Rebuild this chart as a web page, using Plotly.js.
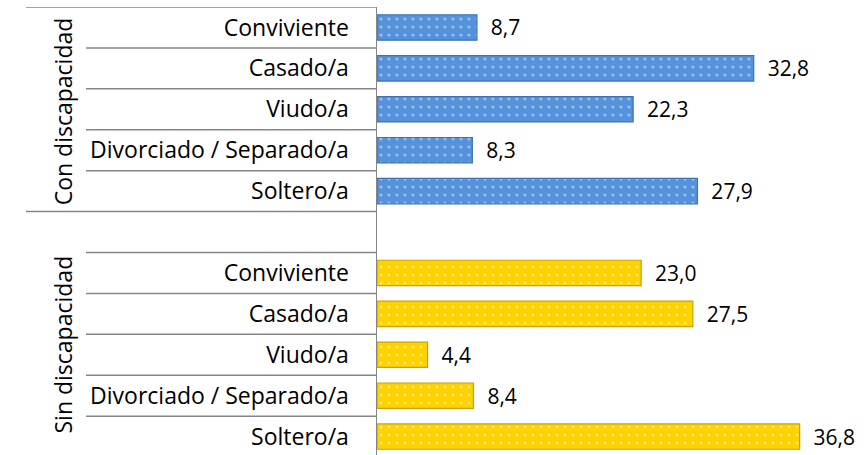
<!DOCTYPE html>
<html><head><meta charset="utf-8">
<script src="https://cdn.plot.ly/plotly-3.0.1.min.js"></script>
<style>body{margin:0;background:#fff}#chart{width:864px;height:455px}</style>
</head><body><div id="chart"></div>
<script>
const groups = ["Con discapacidad", "Sin discapacidad"];
const categories = ["Conviviente", "Casado/a", "Viudo/a", "Divorciado / Separado/a", "Soltero/a"];
const conValues = [8.7, 32.8, 22.3, 8.3, 27.9];
const sinValues = [23.0, 27.5, 4.4, 8.4, 36.8];

const conIds = categories.map((c, i) => "con_" + i);
const sinIds = categories.map((c, i) => "sin_" + i);
const gapId = "gap";
const order = conIds.concat([gapId], sinIds);
const tickText = categories.concat([""], categories);

const font = "'Open Sans', sans-serif";
const lineColor = "#868686";

function barTrace(ids, vals, bg, border) {
  return {
    type: "bar", orientation: "h", y: ids, x: vals,
    marker: {
      color: bg,
      line: {color: border, width: 1.2},
      pattern: {shape: ".", fgcolor: "rgba(255,255,255,0.85)", bgcolor: bg, size: 8, solidity: 0.12, fillmode: "overlay"}
    },
    texttemplate: "\u00a0\u00a0%{x:.1f}", textposition: "outside", cliponaxis: false, constraintext: "none",
    textfont: {family: font, size: 21, color: "#000"},
    hoverinfo: "none", showlegend: false
  };
}

const shapes = [];
function hline(yv, x0px) {
  shapes.push({type: "line", xref: "paper", yref: "y", x0: (x0px - 377) / 487, x1: 0, y0: yv, y1: yv,
    line: {color: lineColor, width: 1.5}, layer: "above"});
}
hline(-0.5, 26);
for (let i = 0; i < 4; i++) hline(i + 0.5, 86);
hline(4.5, 26);
for (let i = 5; i < 10; i++) hline(i + 0.5, 86);

const annotations = [
  {text: groups[0], xref: "paper", yref: "y", x: (45 - 377) / 487, y: 2.05, textangle: -90, showarrow: false,
   font: {family: font, size: 23, color: "#000"}},
  {text: groups[1], xref: "paper", yref: "y", x: (45 - 377) / 487, y: 7.75, textangle: -90, showarrow: false,
   font: {family: font, size: 23, color: "#000"}}
];

Plotly.newPlot("chart", [
  barTrace(conIds, conValues, "#5592dc", "#3f72b5"),
  barTrace(sinIds, sinValues, "#ffd200", "#c9a400")
], {
  width: 864, height: 455,
  margin: {l: 377, r: 0, t: 7, b: 0},
  paper_bgcolor: "#fff", plot_bgcolor: "#fff",
  separators: ",.",
  bargap: 0.38,
  xaxis: {range: [0, 42.4], visible: false, showgrid: false, zeroline: false, fixedrange: true},
  yaxis: {type: "category", categoryorder: "array", categoryarray: order,
    tickvals: order, ticktext: tickText, range: [10.45, -0.5],
    showline: true, linecolor: lineColor, linewidth: 1.5, showgrid: false, zeroline: false,
    ticks: "", ticklabelstandoff: 22,
    tickfont: {family: font, size: 23, color: "#000"}},
  shapes: shapes, annotations: annotations,
  font: {family: font}
}, {staticPlot: true});
</script></body></html>
